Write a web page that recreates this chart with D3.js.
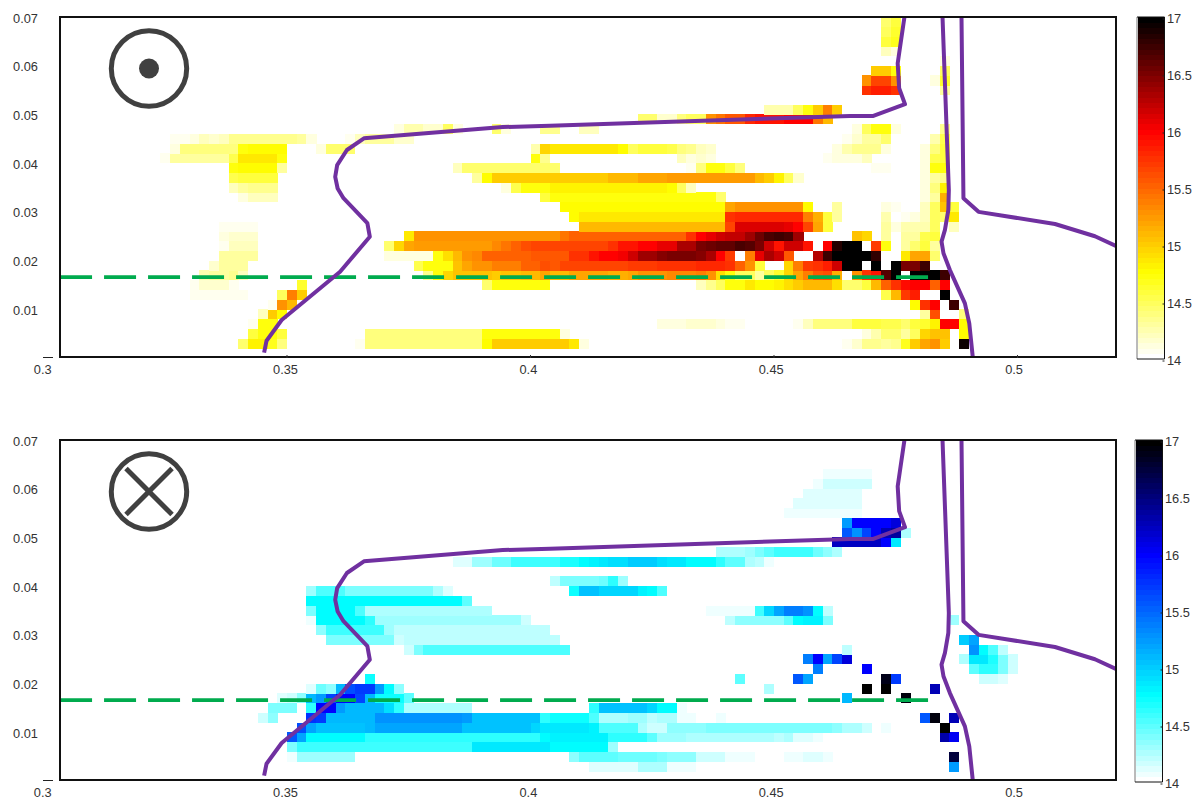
<!DOCTYPE html>
<html>
<head>
<meta charset="utf-8">
<script src="https://cdnjs.cloudflare.com/ajax/libs/d3/7.8.5/d3.min.js"></script>
<style>
  body { margin: 0; background: #fff; }
  text { font-family: "Liberation Sans", Arial, sans-serif; font-size: 12.8px; fill: #333; }
</style>
</head>
<body>
<svg id="chart"></svg>
<script>
// cell runs: [row, first column, last column, value]
// a row covers row*0.002 .. (row+1)*0.002, a column 0.3+col*0.002 .. +0.002
var upCells = [
  [1,20,20,14.45],[1,21,22,14.82],[1,23,23,14.7],[1,24,24,14.4],[1,32,32,14.05],[1,33,44,14.4],[1,45,45,14.75],[1,46,53,15],[1,54,54,14.85],[1,55,55,14.1],
  [1,82,82,14.05],[1,83,83,14.15],[1,84,85,14.35],[1,86,86,14.3],[1,87,87,14.35],[1,88,88,14.7],[1,89,89,15],[1,90,90,15.2],[1,91,91,15.3],[1,92,92,15],[1,94,94,16.95],
  [2,21,21,14.6],[2,22,23,14.72],[2,24,24,14.6],[2,33,44,14.42],[2,45,52,14.72],[2,53,53,14.1],
  [2,84,84,14.1],[2,85,85,14.25],[2,86,87,14.45],[2,88,88,14.3],[2,89,89,14.5],[2,90,90,14.95],[2,91,92,15.05],[2,94,94,14.75],
  [3,21,21,14.05],[3,22,23,14.72],[3,63,65,14.1],[3,66,68,14.18],[3,69,69,14.12],[3,70,70,14.08],[3,71,71,14.05],[3,77,77,14.05],[3,78,78,14.2],[3,79,82,14.4],[3,83,85,14.6],[3,86,87,14.55],[3,88,88,14.45],[3,89,89,14.6],[3,90,90,14.65],[3,91,91,14.8],[3,92,93,16],[3,94,94,14.75],
  [4,22,22,14.2],[4,23,23,15],[4,24,24,14.75],[4,90,90,14.3],[4,91,91,15.6],[4,94,94,14.4],
  [5,23,23,14.05],[5,24,24,15.3],[5,25,25,15.1],[5,89,89,14.75],[5,90,90,15.75],[5,91,91,16],[5,93,93,16.75],
  [6,15,20,14.05],[6,24,24,14.5],[6,25,25,15.4],[6,26,26,15],[6,86,86,14.55],[6,87,87,15.1],[6,88,88,15.7],[6,89,89,15.85],[6,92,92,17],
  [7,15,15,14.05],[7,16,18,14.15],[7,19,19,14.05],[7,26,26,14.65],[7,45,45,14.45],[7,46,51,14.72],[7,67,67,14.2],[7,68,68,14.35],[7,69,69,14.5],[7,70,71,14.72],[7,72,72,14.85],[7,73,74,14.78],[7,75,75,14.8],[7,76,76,14.9],[7,77,77,15],[7,78,78,15.1],[7,79,79,15.12],[7,80,80,15.1],[7,81,81,14.9],[7,82,83,14.45],[7,84,84,14.6],[7,85,85,15.12],[7,86,86,15.5],[7,87,87,15.75],[7,88,88,15.95],[7,89,90,16],[7,91,91,15.5],[7,92,92,16],
  [8,16,16,14.25],[8,17,18,14.3],[8,19,19,14.35],[8,20,20,14.2],[8,39,39,14.35],[8,40,40,14.72],[8,41,41,14.95],[8,42,45,15.05],[8,46,46,15],[8,47,48,15.05],[8,49,50,15.1],[8,51,51,15.2],[8,52,53,15.12],[8,54,57,15.2],[8,58,59,15.15],[8,60,60,15.2],[8,61,63,15.28],[8,64,66,15.35],[8,67,67,15.38],[8,68,68,15.3],[8,69,69,14.9],[8,70,70,14.72],[8,71,72,14.5],[8,73,73,14.3],[8,74,74,14.5],[8,75,75,14.65],[8,76,76,14.95],[8,77,77,15.2],[8,78,78,15.4],[8,79,79,15.55],[8,80,80,15.6],[8,81,81,15.15],[8,83,83,15.3],[8,84,84,15.75],[8,85,85,15.9],[8,86,86,16.65],[8,87,87,17],[8,89,91,17],[8,92,92,16.75],
  [9,17,17,14.15],[9,18,20,14.3],[9,38,38,14.55],[9,39,41,14.72],[9,42,42,15.05],[9,43,43,15.2],[9,44,44,15.28],[9,45,45,15.3],[9,46,48,15.4],[9,49,50,15.5],[9,51,51,15.62],[9,52,52,15.55],[9,53,59,15.68],[9,60,62,15.72],[9,63,66,15.75],[9,67,69,15.82],[9,70,70,15.75],[9,71,71,15.52],[9,72,72,15.28],[9,73,73,14.6],[9,76,76,14.95],[9,77,77,15.4],[9,78,78,15.7],[9,79,79,15.75],[9,80,80,15.85],[9,81,81,16.2],[9,82,83,17],[9,85,85,17],[9,87,87,17],[9,88,89,16.5],[9,90,90,16.75],
  [10,18,21,14.3],[10,35,39,14.1],[10,40,40,14.72],[10,41,41,14.9],[10,42,42,15.12],[10,43,43,15.28],[10,44,44,15.35],[10,45,49,15.5],[10,50,51,15.58],[10,52,53,15.55],[10,54,55,15.75],[10,56,56,15.9],[10,57,58,16],[10,59,59,16.05],[10,60,60,16.2],[10,61,62,16.35],[10,63,63,16.45],[10,64,65,16.5],[10,66,66,16.52],[10,67,67,16.45],[10,68,68,16.3],[10,69,69,16],[10,70,70,15.7],[10,72,72,15.4],[10,73,73,16.1],[10,74,74,16.3],[10,75,75,16.2],[10,76,76,15.55],[10,79,79,16.25],[10,80,80,16.75],[10,81,84,17],[10,85,85,16.8],[10,88,88,14.85],[10,89,90,15.2],[10,91,91,14.45],
  [11,18,18,14.05],[11,19,21,14.2],[11,35,35,14.45],[11,36,36,14.95],[11,37,37,15.2],[11,38,45,15.25],[11,46,46,15.35],[11,47,47,15.45],[11,48,48,15.52],[11,49,49,15.6],[11,50,57,15.65],[11,58,58,15.75],[11,59,59,15.9],[11,60,60,15.92],[11,61,62,16],[11,63,64,16.1],[11,65,65,16.3],[11,66,66,16.33],[11,67,67,16.5],[11,68,68,16.57],[11,69,70,16.6],[11,71,71,16.7],[11,72,72,16.63],[11,73,73,16.5],[11,74,74,16.2],[11,75,75,15.9],[11,76,77,16.2],[11,78,78,15.9],[11,80,80,16],[11,81,81,16.85],[11,82,83,17],[11,85,85,15.7],[11,86,86,14.72],[11,88,88,14.3],[11,89,89,14.45],[11,90,90,14.6],[11,91,91,14.3],
  [12,18,18,14.1],[12,19,21,14.15],[12,37,37,14.85],[12,38,51,15.28],[12,52,52,15.3],[12,53,53,15.45],[12,54,65,15.5],[12,66,66,15.75],[12,67,67,16],[12,68,68,16.1],[12,69,69,16.2],[12,70,71,16.22],[12,72,72,16.35],[12,73,73,16.55],[12,74,74,16.68],[12,75,75,16.75],[12,76,76,16.68],[12,77,77,16.35],[12,83,83,15.05],[12,84,84,14.95],[12,86,86,14.3],[12,88,89,14.3],[12,90,90,14.55],[12,91,91,14.6],
  [13,18,21,14.05],[13,55,69,15.08],[13,70,70,15.65],[13,71,75,16.12],[13,76,76,16.1],[13,77,77,16],[13,78,78,15.65],[13,79,79,15.2],[13,80,80,14.6],[13,86,86,14.3],[13,87,87,14.1],[13,88,90,14.25],[13,91,91,14.5],[13,93,93,14.2],
  [14,54,54,14.75],[14,55,69,14.87],[14,70,70,15.75],[14,71,77,15.82],[14,78,78,15.4],[14,79,79,15.15],[14,80,80,14.6],[14,81,81,14.3],[14,86,86,14.25],[14,88,88,14.05],[14,89,89,14.1],[14,90,90,14.2],[14,91,91,14.5],[14,92,92,14.45],[14,93,93,14.87],
  [15,53,69,14.75],[15,70,70,15.2],[15,71,77,15.28],[15,78,78,14.75],[15,81,81,14.3],[15,86,86,14.1],[15,87,87,14.05],[15,90,90,14.2],[15,91,91,14.5],[15,92,92,15.05],[15,93,93,14.6],
  [16,20,20,14.1],[16,21,23,14.2],[16,51,51,14.6],[16,52,68,14.72],[16,69,69,14.45],[16,90,90,14.1],[16,91,91,14.3],[16,92,92,15.15],
  [17,19,19,14.2],[17,20,20,14.3],[17,21,23,14.35],[17,47,47,14.1],[17,48,48,14.55],[17,49,51,14.72],[17,52,63,14.8],[17,64,64,14.75],[17,65,65,14.5],[17,66,66,14.2],[17,90,90,14.1],[17,91,91,14.4],[17,92,92,14.8],
  [18,19,19,14.55],[18,20,23,14.6],[18,44,44,14.3],[18,45,45,14.75],[18,46,57,15.02],[18,58,59,15.08],[18,60,60,15.12],[18,61,61,15.18],[18,62,63,15.2],[18,64,70,15.25],[18,71,72,15.22],[18,73,73,15.12],[18,74,74,15],[18,75,75,14.8],[18,76,76,14.5],[18,77,77,14.15],[18,90,90,14.1],[18,91,91,14.3],[18,92,92,14.35],
  [19,19,19,14.72],[19,20,23,14.78],[19,24,24,14.3],[19,42,42,14.2],[19,43,52,14.45],[19,66,66,14.05],[19,67,67,14.4],[19,68,69,14.72],[19,70,70,14.6],[19,71,71,14.4],[19,85,86,14.05],[19,90,90,14.1],[19,91,92,14.72],
  [20,12,12,14.05],[20,13,18,14.3],[20,19,19,14.55],[20,20,23,14.88],[20,24,24,14.72],[20,50,50,14.72],[20,51,51,14.35],[20,65,65,14.2],[20,66,66,14.1],[20,67,67,14.15],[20,68,68,14.1],[20,80,80,14.05],[20,81,83,14.12],[20,84,84,14.2],[20,90,90,14.1],[20,91,91,14.55],[20,92,92,14.6],
  [21,13,13,14.1],[21,14,19,14.4],[21,20,20,14.72],[21,21,24,14.78],[21,28,28,14.1],[21,29,31,14.45],[21,50,50,14.25],[21,51,51,14.95],[21,52,58,14.88],[21,59,59,14.75],[21,60,60,14.5],[21,61,63,14.6],[21,64,64,14.55],[21,65,65,14.4],[21,66,66,14.35],[21,67,67,14.2],[21,68,68,14.15],[21,81,81,14.12],[21,82,82,14.25],[21,83,85,14.35],[21,86,86,14.1],[21,90,90,14.1],[21,91,91,14.4],[21,92,92,14.6],
  [22,13,14,14.07],[22,15,15,14.12],[22,16,16,14.2],[22,17,17,14.15],[22,18,18,14.2],[22,19,25,14.35],[22,26,26,14.3],[22,27,27,14.12],[22,31,31,14.05],[22,32,32,14.2],[22,33,35,14.3],[22,36,37,14.15],[22,82,82,14.05],[22,83,83,14.15],[22,84,85,14.3],[22,86,86,14.45],[22,91,91,14.25],[22,92,92,14.55],
  [23,36,36,14.1],[23,37,38,14.25],[23,39,40,14.15],[23,41,41,14.5],[23,42,42,14.1],[23,46,46,14.45],[23,47,47,14.1],[23,51,52,14.35],[23,55,56,14.2],[23,83,83,14.1],[23,84,84,14.5],[23,85,86,14.72],[23,87,87,14.1],[23,92,92,14.35],
  [24,61,62,14.45],[24,63,64,14.15],[24,65,65,14.4],[24,66,67,14.5],[24,68,68,15.3],[24,69,69,15.45],[24,70,71,15.55],[24,72,72,15.8],[24,73,75,15.9],[24,76,78,16],[24,79,79,15.45],[24,80,80,15.1],
  [25,74,76,14.25],[25,77,77,14.5],[25,78,78,14.72],[25,79,79,15],[25,80,80,15.4],[25,81,81,15],
  [27,84,84,15.75],[27,85,86,15.85],[27,87,87,15.75],[27,92,92,14.3],
  [28,84,84,15.3],[28,85,86,15.65],[28,87,87,15.3],[28,91,91,14.1],[28,92,92,14.65],
  [29,85,86,15],[29,87,87,14.72],[29,92,92,14.5],
  [30,92,92,14.1],
  [31,86,86,14.2],[31,87,87,14.1],
  [32,86,86,14.6],[32,87,87,14.7],
  [33,86,86,14.5],[33,87,87,14.65],
  [34,86,86,14.45],[34,87,87,14.6]
];

var downCells = [
  [1,56,60,14.1],[1,61,63,14.25],[1,64,66,14.05],[1,93,93,15.25],
  [2,25,25,14.08],[2,26,31,14.3],[2,54,54,14.35],[2,55,58,14.5],[2,59,62,14.45],[2,63,63,14.42],[2,64,66,14.35],[2,67,69,14.15],[2,70,71,14.08],[2,72,72,14.05],[2,76,77,14.05],[2,78,79,14.12],[2,80,80,14.08],[2,93,93,16.75],
  [3,25,25,14.4],[3,26,43,14.58],[3,44,51,14.85],[3,52,52,14.75],[3,53,57,14.75],[3,58,58,14.3],
  [4,25,25,15.55],[4,26,26,15.2],[4,27,32,14.75],[4,33,43,14.62],[4,44,50,14.65],[4,51,51,14.75],[4,52,57,14.82],[4,58,61,14.65],[4,62,62,14.48],[4,63,65,14.3],[4,66,70,14.25],[4,71,74,14.28],[4,75,75,14.2],[4,76,76,14.25],[4,77,78,14.12],[4,79,79,14.08],[4,92,92,16.3],[4,93,93,16.05],
  [5,26,26,15.6],[5,27,27,15.2],[5,28,32,15.05],[5,33,33,15.12],[5,34,42,15.2],[5,43,49,15.05],[5,50,50,14.95],[5,51,51,14.85],[5,52,55,14.87],[5,56,56,14.8],[5,57,60,14.55],[5,61,61,14.28],[5,62,62,14.16],[5,63,63,14.18],[5,64,67,14.33],[5,68,80,14.42],[5,81,81,14.33],[5,82,83,14.28],[5,84,84,14.15],[5,86,86,14.05],[5,92,92,17],
  [6,22,22,14.15],[6,23,23,14.35],[6,27,27,15.78],[6,28,28,15.7],[6,29,33,15.12],[6,34,42,15.28],[6,43,43,15.25],[6,44,50,15.05],[6,51,51,14.65],[6,52,55,14.72],[6,56,56,14.55],[6,57,59,14.26],[6,60,61,14.32],[6,62,62,14.22],[6,63,64,14.28],[6,65,65,14.07],[6,66,66,14.05],[6,69,69,14.05],[6,90,90,15.55],[6,91,91,16.95],[6,93,93,16.25],
  [7,23,25,14.38],[7,27,27,14.65],[7,28,29,16],[7,30,30,15.25],[7,31,34,15.1],[7,35,35,14.9],[7,36,36,14.65],[7,37,43,14.28],[7,56,56,14.65],[7,57,61,15.05],[7,62,62,14.97],[7,63,64,14.75],[7,65,65,14.07],
  [8,24,24,14.12],[8,25,25,14.15],[8,26,26,14.33],[8,27,27,15.1],[8,28,28,15.25],[8,29,29,15.68],[8,30,31,16],[8,32,32,15.68],[8,33,33,15.1],[8,34,36,14.72],[8,37,37,14.5],[8,82,82,15.12],[8,88,88,16.95],
  [9,27,27,14.12],[9,28,28,14.45],[9,29,29,14.35],[9,30,30,15.1],[9,31,31,15.6],[9,32,33,15.7],[9,34,34,15.25],[9,35,35,14.75],[9,36,36,14.35],[9,74,74,14.28],[9,84,84,17],[9,86,86,17],[9,91,91,16.25],
  [10,33,33,14.72],[10,71,71,14.5],[10,77,77,15.55],[10,78,78,15.18],[10,86,86,16.9],[10,87,87,15.7],[10,96,96,14.15],[10,97,97,14.18],[10,98,98,14.12],
  [11,79,79,15.38],[11,84,84,16],[11,95,95,14.5],[11,96,97,14.62],[11,98,98,14.4],[11,99,99,14.15],
  [12,78,78,15.38],[12,79,79,16],[12,80,80,15.2],[12,81,81,15.68],[12,82,82,16.15],[12,94,94,14.25],[12,95,96,14.85],[12,97,97,14.7],[12,98,98,14.38],[12,99,99,14.15],
  [13,37,37,14.15],[13,38,38,14.4],[13,39,53,14.52],[13,82,82,14.2],[13,95,95,15.3],[13,96,96,14.75],[13,97,97,14.55],[13,98,98,14.2],
  [14,29,35,14.38],[14,36,36,14.15],[14,37,52,14.2],[14,94,94,15],[14,95,95,15.2],
  [15,28,28,14.35],[15,29,34,14.6],[15,35,35,14.3],[15,36,51,14.22],
  [16,27,27,14.06],[16,28,32,14.75],[16,33,33,14.65],[16,34,48,14.3],[16,49,49,14.15],[16,70,70,14.22],[16,71,75,14.33],[16,76,76,14.5],[16,77,77,14.75],[16,78,79,14.8],[16,80,80,14.38],[16,93,93,14.3],
  [17,27,27,14.4],[17,28,31,14.75],[17,32,32,14.55],[17,33,45,14.28],[17,68,72,14.05],[17,73,73,14.58],[17,74,74,14.95],[17,75,75,15.18],[17,76,77,15.38],[17,78,78,15.3],[17,79,79,14.75],[17,80,80,14.22],
  [18,27,27,14.75],[18,28,31,14.78],[18,32,42,14.75],[18,43,43,14.5],
  [19,27,27,14.3],[19,28,30,14.55],[19,31,39,14.4],[19,40,40,14.28],[19,41,41,14.1],[19,54,54,14.72],[19,55,56,15.05],[19,57,60,14.97],[19,61,61,14.8],[19,62,62,14.75],[19,63,63,14.55],
  [20,52,52,14.22],[20,53,56,14.42],[20,57,57,14.45],[20,58,58,14.65],[20,59,59,14.32],
  [22,42,43,14.1],[22,44,45,14.3],[22,46,47,14.45],[22,48,50,14.6],[22,51,52,14.6],[22,53,54,14.7],[22,55,55,14.75],[22,56,56,14.8],[22,57,57,14.87],[22,58,59,14.92],[22,60,62,15],[22,63,63,14.92],[22,64,65,14.87],[22,66,67,14.77],[22,68,68,14.75],[22,69,69,14.65],[22,70,71,14.5],[22,72,72,14.28],[22,73,73,14.2],[22,74,74,14.08],
  [23,69,71,14.25],[23,72,72,14.3],[23,73,73,14.42],[23,74,74,14.48],[23,75,76,14.6],[23,77,78,14.58],[23,79,79,14.45],[23,80,80,14.33],[23,81,81,14.25],
  [24,81,85,16.22],[24,86,86,16],[24,87,87,14.87],
  [25,82,82,15.55],[25,83,83,15.3],[25,84,84,15.65],[25,85,85,16],[25,86,86,16.25],[25,87,87,16.35],[25,88,88,14.28],
  [26,82,82,15.25],[26,83,86,16],[26,87,87,16.15],
  [27,76,83,14.06],
  [28,77,83,14.1],
  [29,78,83,14.1],
  [30,79,79,14.07],[30,80,84,14.15],
  [31,80,84,14.07]
];

// purple boundary curves and green dashed level, in data units [x, y]
var curveA = [[0.3453,0.0011],[0.3458,0.00355],[0.3489,0.0078],[0.3609,0.0177],[0.3670,0.0249],[0.3665,0.0277],[0.3616,0.0328],[0.3604,0.0348],[0.3599,0.0372],[0.3603,0.0396],[0.3623,0.0427],[0.3658,0.0451],[0.3943,0.0474],[0.4040,0.0477],[0.4656,0.0497],[0.4704,0.0497],[0.4769,0.0521],[0.4757,0.0554],[0.4754,0.0605],[0.4768,0.0701]];
var curveB = [[0.4846,0.0701],[0.4859,0.0345],[0.4858,0.0304],[0.4851,0.0263],[0.4844,0.0239],[0.4848,0.0215],[0.4861,0.0181],[0.4892,0.0112],[0.4901,0.0071],[0.4908,0.0003]];
var curveC = [[0.4885,0.0701],[0.4889,0.0328],[0.4920,0.0300],[0.5077,0.0275],[0.5159,0.0250],[0.5202,0.0230]];
var greenLevel = 0.0166;
var greenEnd = 0.4822;

var xTicks = [0.3, 0.35, 0.4, 0.45, 0.5];
var yTicks = [0.01, 0.02, 0.03, 0.04, 0.05, 0.06, 0.07];
var barTicks = [14, 14.5, 15, 15.5, 16, 16.5, 17];

var w = 1195, h = 799;
var svg = d3.select("#chart").attr("width", w).attr("height", h).style("display", "block");

var x = d3.scaleLinear().domain([0.3, 0.52]).range([43.5, 43.5 + 0.22 * 4870]);
var line = null;

function makeColor(mid, end) {
  var ramp = d3.scaleLinear().domain([0, 0.25, 2 / 3, 1]).range(["#ffffff", mid, end, "#000000"]);
  return d3.scaleQuantize().domain([14, 17]).range(d3.range(64).map(function(i) { return ramp(i / 63); }));
}

function drawPanel(top, cells, mid, end, barX, symbol, clipId, topTicks) {
  var y = d3.scaleLinear().domain([0, 0.07]).range([top + 341, top]);
  var color = makeColor(mid, end);
  var g = svg.append("g");

  // expand runs into single cells
  var grid = [];
  cells.forEach(function(run) {
    d3.range(run[1], run[2] + 1).forEach(function(col) {
      grid.push({ row: run[0], col: col, value: run[3] });
    });
  });

  g.append("g").attr("shape-rendering", "crispEdges")
    .selectAll("rect").data(grid).enter().append("rect")
    .attr("x", function(d) { return x(0.3 + d.col * 0.002); })
    .attr("y", function(d) { return y((d.row + 1) * 0.002); })
    .attr("width", x(0.302) - x(0.3) + 0.3)
    .attr("height", y(0) - y(0.002) + 0.3)
    .attr("fill", function(d) { return color(d.value); });

  svg.append("clipPath").attr("id", clipId).append("rect")
    .attr("x", 60).attr("y", top).attr("width", 1056).attr("height", 341);

  line = d3.line().x(function(d) { return x(d[0]); }).y(function(d) { return y(d[1]); });

  var overlay = g.append("g").attr("clip-path", "url(#" + clipId + ")");
  overlay.append("path").datum([[0.3034, greenLevel], [greenEnd, greenLevel]])
    .attr("d", line).attr("fill", "none")
    .attr("stroke", "#00ab4e").attr("stroke-width", 3.6).attr("stroke-dasharray", "32,12");
  [curveA, curveB, curveC].forEach(function(c) {
    overlay.append("path").datum(c).attr("d", line).attr("fill", "none")
      .attr("stroke", "#7030a0").attr("stroke-width", 4).attr("stroke-linejoin", "round");
  });

  // frame
  g.append("rect").attr("x", 60).attr("y", top).attr("width", 1056).attr("height", 340)
    .attr("fill", "none").attr("stroke", "#111").attr("stroke-width", 2);

  // axes
  var xAxis = d3.axisBottom(x).tickValues(xTicks).tickSize(0).tickPadding(0).tickFormat(d3.format(".2~f"));
  var ax = g.append("g").attr("transform", "translate(-2," + (top + 345) + ")").call(xAxis);
  ax.select(".domain").remove();
  ax.selectAll("text").attr("dy", "0.95em")
    .attr("dx", function(d) { return (0.35 - d) * 13; });

  if (topTicks) {
    g.append("g").selectAll("line").data(xTicks.slice(1)).enter().append("line")
      .attr("x1", x).attr("x2", x).attr("y1", top + 338).attr("y2", top + 341)
      .attr("stroke", "#333");
  }

  var yAxis = d3.axisLeft(y).tickValues(yTicks).tickSize(0).tickPadding(0).tickFormat(d3.format(".2f"));
  var ay = g.append("g").attr("transform", "translate(38,1)").call(yAxis);
  ay.select(".domain").remove();

  // the zero label is only a dash in the source picture
  g.append("line").attr("x1", 43).attr("x2", 53).attr("y1", y(0) - 0.5).attr("y2", y(0) - 0.5).attr("stroke", "#222");

  // polarity symbol
  var cy = top + 51.5;
  var sym = g.append("g").attr("fill", "none").attr("stroke", "#404040").attr("stroke-width", 5);
  sym.append("circle").attr("cx", 149).attr("cy", cy).attr("r", 37.7);
  if (symbol === "dot") {
    sym.append("circle").attr("cx", 149).attr("cy", cy).attr("r", 10).attr("fill", "#404040").attr("stroke", "none");
  } else {
    sym.append("line").attr("x1", 126).attr("y1", cy - 23).attr("x2", 172).attr("y2", cy + 23);
    sym.append("line").attr("x1", 172).attr("y1", cy - 23).attr("x2", 126).attr("y2", cy + 23);
  }

  // colour bar
  var bar = d3.scaleLinear().domain([14, 17]).range([top + 342, top]);
  var levels = color.range();
  var step = 3 / levels.length;
  g.append("g").attr("shape-rendering", "crispEdges")
    .selectAll("rect").data(levels).enter().append("rect")
    .attr("x", barX).attr("width", 27)
    .attr("y", function(d, i) { return bar(14 + (i + 1) * step); })
    .attr("height", bar(14) - bar(14 + step) + 0.5)
    .attr("fill", function(d) { return d; });
  g.append("path").attr("fill", "none").attr("stroke", "#777").attr("stroke-width", 1)
    .attr("d", "M" + (barX - 0.5) + "," + top + "V" + (top + 342));
  g.append("path").attr("fill", "none").attr("stroke", "#111").attr("stroke-width", 1)
    .attr("d", "M" + (barX - 0.5) + "," + top + "H" + (barX + 27) + "V" + (top + 342) + "H" + (barX - 0.5));

  var barAxis = d3.axisRight(bar).tickValues(barTicks).tickSize(-2).tickPadding(2.5).tickFormat(d3.format("~g"));
  var ab = g.append("g").attr("transform", "translate(" + (barX + 27) + ",1.5)").call(barAxis);
  ab.select(".domain").remove();
  ab.selectAll("line").attr("stroke", "#222");
}

drawPanel(17, upCells, "#ffff00", "#ff0000", 1137.5, "dot", "clipTop", true);
drawPanel(440, downCells, "#00ffff", "#0000ff", 1135.5, "cross", "clipBottom", false);
</script>
</body>
</html>
